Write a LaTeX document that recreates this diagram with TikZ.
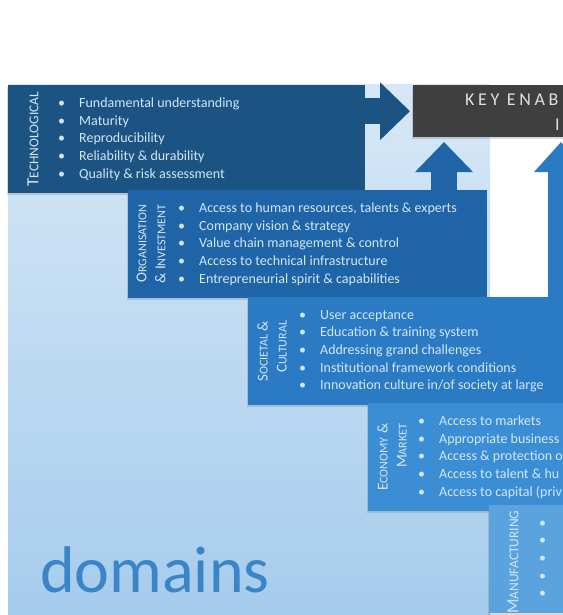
\documentclass[tikz,border=0pt]{standalone}
\usepackage{fontspec}
\setmainfont{Carlito}
\usetikzlibrary{positioning,arrows.meta,shadows}

\definecolor{techblue}{HTML}{1B5383}
\definecolor{orgblue}{HTML}{1F64A6}
\definecolor{socblue}{HTML}{2A7AC4}
\definecolor{ecoblue}{HTML}{3C8ED4}
\definecolor{manblue}{HTML}{5AA3DE}
\definecolor{ketgray}{HTML}{3F3F3F}
\definecolor{boxtext}{HTML}{D3E6F7}
\definecolor{bgtop}{HTML}{D6E8F7}
\definecolor{bgbot}{HTML}{A6CCEC}
\definecolor{domtext}{HTML}{3A85C8}

\newcommand{\itm}[1]{\makebox[21pt][l]{\textbullet}#1}
\newcommand{\fsc}[2]{#1{\fontsize{12}{12}\selectfont #2}}
\newcommand{\bigfsc}[2]{{\fontsize{17}{17}\selectfont #1}{\fontsize{13.5}{13.5}\selectfont #2}}

\tikzset{
  domainbox/.style={minimum height=108pt, anchor=north west, inner sep=0pt,
    drop shadow={shadow xshift=-1pt,shadow yshift=-2pt,opacity=.3}},
  boxtitle/.style={rotate=90, text=boxtext, align=right, inner sep=0pt,
    font=\fontsize{15}{19}\selectfont},
  boxlist/.style={text=boxtext, align=left, anchor=west, inner sep=0pt,
    font=\fontsize{14}{17.6}\selectfont},
  blockarrow/.style={line width=26pt, -{Triangle[length=30pt,width=56pt]}},
  kettext/.style={text=white!88!black, inner sep=0pt,
    font=\addfontfeature{LetterSpace=20}\fontsize{18}{18}\selectfont}
}

\begin{document}
\begin{tikzpicture}[x=1pt,y=-1pt]
  \useasboundingbox (0,0) rectangle (562,615);
  % light background of the domains
  \fill[top color=bgtop, bottom color=bgbot] (8,85) rectangle (490,615);
  \node[anchor=base west, inner sep=0pt, text=domtext, font=\fontsize{66}{66}\selectfont]
    (domains) at (40,592) {domains};

  % key enabling box
  \node[domainbox, fill=ketgray, minimum width=200pt, minimum height=52pt] (ket) at (413,85) {};
  \node[kettext, anchor=base west] (ketA) at (465,106) {KEY ENAB};
  \node[kettext, anchor=base west] (ketB) at (555,131) {I};

  % technological
  \node[domainbox, fill=techblue, minimum width=357pt] (tech) at (8,85) {};
  \node[boxtitle] (techtitle) at ([xshift=25pt]tech.west) {\bigfsc{T}{ECHNOLOGICAL}};
  \node[boxlist] (techlist) at ([xshift=50pt]tech.west) {%
    \itm{Fundamental understanding}\\
    \itm{Maturity}\\
    \itm{Reproducibility}\\
    \itm{Reliability \& durability}\\
    \itm{Quality \& risk assessment}};
  \draw[blockarrow, techblue] (tech.east |- ket.west) -- ([xshift=-3pt]ket.west);

  % organisation & investment
  \coordinate (orgtip) at (444,142);
  \node[domainbox, fill=orgblue, minimum width=359pt] (org) at (128,190) {};
  \draw[blockarrow, orgblue] (orgtip |- org.north) -- (orgtip);
  \node[boxtitle] (orgtitle) at ([xshift=23pt]org.west) {\fsc{O}{RGANISATION}\\\& \fsc{I}{NVESTMENT}};
  \node[boxlist] (orglist) at ([xshift=50pt]org.west) {%
    \itm{Access to human resources, talents \& experts}\\
    \itm{Company vision \& strategy}\\
    \itm{Value chain management \& control}\\
    \itm{Access to technical infrastructure}\\
    \itm{Entrepreneurial spirit \& capabilities}};

  % societal & cultural
  \coordinate (soctip) at (561,142);
  \node[domainbox, fill=socblue, minimum width=330pt] (soc) at (248,297) {};
  \draw[blockarrow, socblue, -{Triangle[length=30pt,width=52pt]}] (soctip |- soc.north) -- (soctip);
  \node[boxtitle] (soctitle) at ([xshift=24pt]soc.west) {\fsc{S}{OCIETAL} \&\\\fsc{C}{ULTURAL}};
  \node[boxlist] (soclist) at ([xshift=51pt]soc.west) {%
    \itm{User acceptance}\\
    \itm{Education \& training system}\\
    \itm{Addressing grand challenges}\\
    \itm{Institutional framework conditions}\\
    \itm{Innovation culture in/of society at large}};

  % economy & market
  \node[domainbox, fill=ecoblue, minimum width=210pt] (eco) at (368,403) {};
  \node[boxtitle] (ecotitle) at ([xshift=24pt]eco.west) {\fsc{E}{CONOMY} \&\\\fsc{M}{ARKET}};
  \node[boxlist] (ecolist) at ([xshift=50pt]eco.west) {%
    \itm{Access to markets}\\
    \itm{Appropriate business}\\
    \itm{Access \& protection o}\\
    \itm{Access to talent \& hu}\\
    \itm{Access to capital (priv}};

  % manufacturing
  \node[domainbox, fill=manblue, minimum width=100pt] (man) at (489,505) {};
  \node[boxtitle] (mantitle) at ([xshift=24pt,yshift=-3pt]man.west) {\bigfsc{M}{ANUFACTURING}};
  \node[boxlist] (manlist) at ([xshift=50pt]man.west) {%
    \itm{}\\ \itm{}\\ \itm{}\\ \itm{}\\ \itm{}};
\end{tikzpicture}
\end{document}
